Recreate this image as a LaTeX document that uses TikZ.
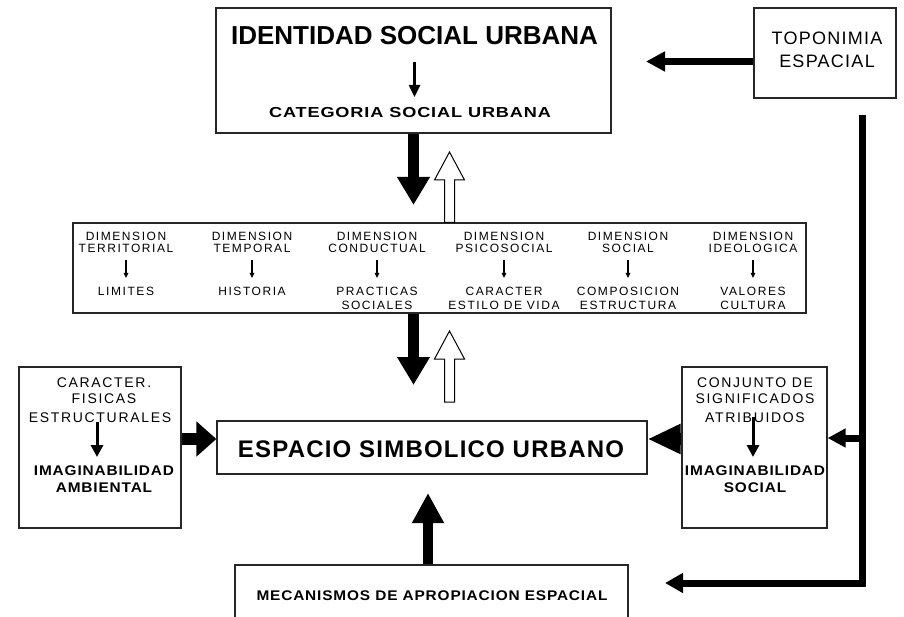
\documentclass[tikz,border=0pt]{standalone}
\usepackage{fontspec}
\setmainfont{Liberation Sans}
\newfontfamily\fDim[LetterSpace=13]{Liberation Sans}
\newfontfamily\fSide[LetterSpace=12]{Liberation Sans}
\newfontfamily\fWide[FakeStretch=1.1,LetterSpace=6]{Liberation Sans}
\newfontfamily\fTopo[LetterSpace=7]{Liberation Sans}
\newfontfamily\fCat[FakeStretch=1.25,LetterSpace=6]{Liberation Sans}
\newfontfamily\fEsp[LetterSpace=5]{Liberation Sans}
\usetikzlibrary{arrows.meta,calc}
\tikzset{
  box/.style={draw=black!85, line width=1.2pt, inner sep=0pt, rectangle},
  txt/.style={anchor=base, inner sep=0pt},
  dimtxt/.style={txt, font={\fDim\fontsize{12}{14}\selectfont}},
  sidetxt/.style={txt, font={\fSide\fontsize{14}{16}\selectfont}},
  sidebold/.style={txt, font={\fWide\bfseries\fontsize{14}{16}\selectfont}},
  blkarr/.style={line width=11pt, -{Triangle[length=28pt,width=31pt]}},
  sidearr/.style={line width=12pt, -{Triangle[length=#1,width=34pt]}},
  thickarr/.style={line width=7pt, line join=miter, -{Triangle[length=18pt,width=19pt]}},
  midarr/.style={line width=3pt, -{Triangle[length=12pt,width=12pt]}},
  smallarr/.style={line width=1.3pt, -{Triangle[length=5pt,width=4.5pt]}},
  hollow/.style={draw=black, line width=1pt, fill=white, line join=miter}
}
\newcommand\hollowup[2]{%
  \draw[hollow] ($(#1)+(-5,0)$) -- ($(#2)+(-5,28)$) -- ($(#2)+(-15,28)$) -- (#2)
    -- ($(#2)+(15,28)$) -- ($(#2)+(5,28)$) -- ($(#1)+(5,0)$) -- cycle;}
\begin{document}
\begin{tikzpicture}[x=1pt,y=-1pt]
\clip (0,0) rectangle (904,617);
\fill[white] (0,0) rectangle (904,617);

% boxes
\node[box, minimum width=395pt, minimum height=125pt] (ident) at (413.5,70.5) {};
\node[box, minimum width=142pt, minimum height=90pt] (topo) at (825,53) {};
\node[box, minimum width=733pt, minimum height=90pt] (dim) at (439.5,268) {};
\node[box, minimum width=162pt, minimum height=161pt] (left) at (100,447.5) {};
\node[box, minimum width=145pt, minimum height=161pt] (right) at (754.5,447.5) {};
\node[box, minimum width=430pt, minimum height=53pt] (esp) at (432,447.5) {};
\node[box, minimum width=393pt, minimum height=75pt] (mec) at (431.5,602.5) {};

% top box texts
\node[txt, font={\bfseries\fontsize{26}{30}\selectfont}] (identT) at (414.5,45) {IDENTIDAD SOCIAL URBANA};
\node[txt, font={\fCat\bfseries\fontsize{14.5}{18}\selectfont}] (catT) at (410,118) {CATEGORIA SOCIAL URBANA};
\draw[line width=2.5pt, -{Triangle[length=12pt,width=11pt]}] ($(identT.base)+(0,17)$) -- ($(identT.base)+(0,52)$);

% toponimia
\node[txt, font={\fTopo\fontsize{18}{22}\selectfont}] (topo1) at (827,45) {TOPONIMIA};
\node[txt, font={\fTopo\fontsize{18}{22}\selectfont}] (topo2) at (827,68) {ESPACIAL};
\coordinate (topotip) at (646,61.5);
\draw[line width=7pt, -{Triangle[length=19pt,width=19pt]}] ([yshift=-8.5pt]topo.west) -- (topotip);

% dimension columns
\foreach \x/\ha/\hb/\la [count=\i] in {126/DIMENSION/TERRITORIAL/LIMITES, 252/DIMENSION/TEMPORAL/HISTORIA, 377/DIMENSION/CONDUCTUAL/PRACTICAS, 504/DIMENSION/PSICOSOCIAL/CARACTER, 628/DIMENSION/SOCIAL/COMPOSICION, 753/DIMENSION/IDEOLOGICA/VALORES}{
  \node[dimtxt] (da\i) at (\x,241) {\ha};
  \node[dimtxt] (db\i) at (\x,253) {\hb};
  \node[dimtxt] (dl\i) at (\x,296) {\la};
  \draw[smallarr] ([yshift=-7pt]db\i.base) -- ([yshift=18pt]dl\i.base);
}
\node[dimtxt] (dm3) at (377,309) {SOCIALES};
\node[dimtxt] (dm4) at (504,309) {ESTILO DE VIDA};
\node[dimtxt] (dm5) at (628,309) {ESTRUCTURA};
\node[dimtxt] (dm6) at (753,309) {CULTURA};

% arrows between top box, dimension box and espacio
\coordinate (t1) at (413.5,205);
\draw[blkarr] (ident.south) -- (t1);
\coordinate (h1tip) at (449.5,152);
\coordinate (h1base) at (dim.north -| h1tip);
\hollowup{h1base}{h1tip}
\coordinate (t2) at (413.5,385);
\draw[blkarr] (dim.south -| t2) -- (t2);
\coordinate (h2tip) at (449.5,331);
\coordinate (h2base) at (449.5,402);
\hollowup{h2base}{h2tip}

% espacio text
\node[txt, font={\fEsp\bfseries\fontsize{24}{28}\selectfont}] (espT) at (431,457) {ESPACIO SIMBOLICO URBANO};

% left box texts
\node[sidetxt] (lt1) at (104,387) {CARACTER.};
\node[sidetxt] (lt2) at (104,403) {FISICAS};
\node[sidetxt] (lt3) at (100,422) {ESTRUCTURALES};
\node[sidebold] (lb1) at (104,475) {IMAGINABILIDAD};
\node[sidebold] (lb2) at (104,492) {AMBIENTAL};
\draw[midarr] ([xshift=-3pt]lt3.base) -- ([xshift=-7pt,yshift=18pt]lb1.base);

% right box texts
\node[sidetxt] (rt1) at (755,387) {CONJUNTO DE};
\node[sidetxt] (rt2) at (755,403) {SIGNIFICADOS};
\node[sidetxt] (rt3) at (755,422) {ATRIBUIDOS};
\node[sidebold] (rb1) at (755,475) {IMAGINABILIDAD};
\node[sidebold] (rb2) at (755,492) {SOCIAL};
\draw[midarr] ([xshift=-2pt,yshift=5pt]rt3.base) -- ([xshift=-2pt,yshift=18pt]rb1.base);

% side arrows into espacio
\draw[sidearr=20pt] ([yshift=8.5pt]left.east) -- ([yshift=8.5pt]esp.west);
\draw[line width=12pt, -{Triangle[length=33pt,width=28pt]}] ([yshift=8.5pt]right.west) -- ([yshift=8.5pt]esp.east);

% bottom box
\node[txt, font={\fWide\bfseries\fontsize{14}{16}\selectfont}] (mecT) at (432,600) {MECANISMOS DE APROPIACION ESPACIAL};
\coordinate (t3) at (428,493);
\draw[line width=10pt, -{Triangle[length=30pt,width=30pt]}] (mec.north -| t3) -- (t3);

% right feedback line
\coordinate (vtop) at (862,115);
\coordinate (vbot) at (665,583);
\draw[thickarr] (vtop) |- (vbot);
\draw[line width=7pt, -{Triangle[length=18pt,width=18pt]}] ([yshift=9.5pt]right.east -| vtop) -- ([yshift=9.5pt]right.east);
\end{tikzpicture}
\end{document}
